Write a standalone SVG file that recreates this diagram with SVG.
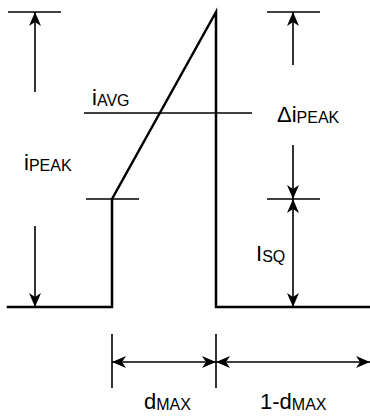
<svg xmlns="http://www.w3.org/2000/svg" width="370" height="416" viewBox="0 0 370 416">
<style>
.w{stroke:#000;stroke-width:2.5;fill:none;stroke-linecap:square}
.t{stroke:#000;stroke-width:1.6;fill:none}
.a{stroke:#000;stroke-width:1.6;fill:none}
.lbl{font-family:"Liberation Sans",Arial,sans-serif;font-size:22px;fill:#000}
.sub{font-size:16px}
</style>
<defs>
<marker id="ah" viewBox="0 0 14 12" refX="14" refY="6" markerWidth="14" markerHeight="12" markerUnits="userSpaceOnUse" orient="auto-start-reverse">
<path d="M0,0 L14,6 L0,12 L4,6 Z" fill="#000"/>
</marker>
</defs>
<rect width="370" height="416" fill="#fff"/>
<g id="waveform">
<polyline class="w" points="8,307 112,307 112,199 216,12 216,307 370,307"/>
</g>
<g id="ticks">
<line class="t" x1="8" y1="12" x2="61" y2="12"/>
<line class="t" x1="86" y1="199" x2="139" y2="199"/>
<line class="t" x1="267" y1="12" x2="320" y2="12"/>
<line class="t" x1="267" y1="199" x2="320" y2="199"/>
<line class="t" x1="84" y1="113" x2="252" y2="113"/>
<line class="t" x1="112" y1="334" x2="112" y2="388"/>
<line class="t" x1="216" y1="334" x2="216" y2="388"/>
</g>
<g id="connectors">
<line class="a" x1="35" y1="92" x2="35" y2="12" marker-end="url(#ah)"/>
<line class="a" x1="35" y1="226" x2="35" y2="307" marker-end="url(#ah)"/>
<line class="a" x1="293" y1="65" x2="293" y2="12" marker-end="url(#ah)"/>
<line class="a" x1="293" y1="145" x2="293" y2="199" marker-end="url(#ah)"/>
<line class="a" x1="293" y1="199" x2="293" y2="307" marker-start="url(#ah)" marker-end="url(#ah)"/>
<line class="a" x1="112" y1="362" x2="216" y2="362" marker-start="url(#ah)" marker-end="url(#ah)"/>
<line class="a" x1="216" y1="362" x2="370" y2="362" marker-start="url(#ah)" marker-end="url(#ah)"/>
</g>
<g id="labels">
<text id="iavg" class="lbl" x="92" y="105">i<tspan class="sub" dy="1">AVG</tspan></text>
<text id="ipeak" class="lbl" x="24" y="170">i<tspan class="sub" dy="1">PEAK</tspan></text>
<text id="dipeak" class="lbl" x="277" y="122">Δi<tspan class="sub" dy="1">PEAK</tspan></text>
<text id="isq" class="lbl" x="256" y="261">I<tspan class="sub" dy="1">SQ</tspan></text>
<text id="dmax" class="lbl" x="144" y="409">d<tspan class="sub" dy="1">MAX</tspan></text>
<text id="onedmax" class="lbl" x="260" y="409">1-d<tspan class="sub" dy="1">MAX</tspan></text>
</g>
</svg>
